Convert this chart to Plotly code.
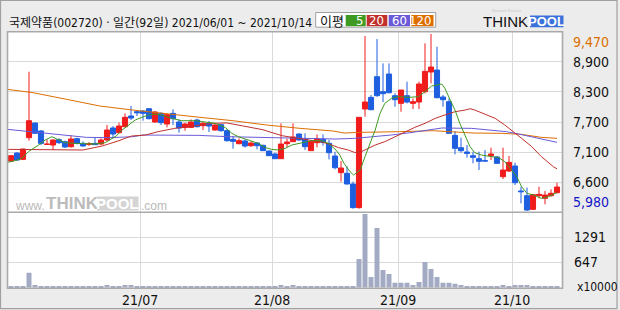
import plotly.graph_objects as go

W, H = 620, 310
def px(x): return x / W
def py(y): return 1 - y / H

# ---------------- data ----------------
month_days = [22, 22, 21, 19, 8]          # trading days Jun..Oct 2021 (92)
month_labels = ["21/07", "21/08", "21/09", "21/10"]

opens = [6971, 7126, 7003, 7422, 7705, 7551, 7293, 7280, 7383, 7344,
         7248, 7403, 7312, 7293, 7312, 7299, 7377, 7609, 7518, 7634,
         7841, 7924, 7937, 7982, 7725, 7892, 7686, 7892, 7725, 7621,
         7621, 7763, 7654, 7699, 7570, 7673, 7557, 7390, 7306, 7358,
         7267, 7319, 7274, 7164, 7106, 7016, 7306, 7345, 7493, 7396,
         7171, 7325, 7390, 7312, 7068, 6746, 6733, 6527, 6070, 7976,
         8201, 8600, 8311, 8652, 8233, 8085, 8233, 8085, 8111, 8311,
         8691, 8729, 8208, 8117, 7467, 7229, 7145, 7074, 7016, 6978,
         7074, 7048, 6668, 6778, 6874, 6392, 6301, 6037, 6301, 6250,
         6301, 6359]
highs = [7087, 7139, 7210, 8697, 7712, 7570, 7390, 7390, 7409, 7364,
         7467, 7422, 7351, 7338, 7428, 7409, 7667, 7647, 7712, 7892,
         8034, 7956, 7956, 7995, 7937, 7911, 7892, 7969, 7776, 7712,
         7776, 7789, 7725, 7744, 7686, 7686, 7589, 7454, 7409, 7390,
         7351, 7332, 7287, 7171, 7132, 7699, 7403, 7699, 7506, 7506,
         7364, 7486, 7486, 7377, 7151, 6971, 6868, 6572, 7815, 9386,
         8246, 9328, 8858, 8858, 8279, 8343, 8504, 8182, 8504, 9244,
         9425, 9180, 8246, 8182, 7551, 7422, 7280, 7151, 7151, 7184,
         7229, 7068, 7229, 7068, 6939, 6475, 6456, 6321, 6475, 6392,
         6424, 6553]
lows = [6958, 6978, 6990, 7364, 7493, 7280, 7290, 7184, 7300, 7222,
        7229, 7293, 7248, 7261, 7287, 7280, 7345, 7403, 7506, 7621,
        7763, 7841, 7750, 7776, 7712, 7667, 7621, 7667, 7518, 7557,
        7609, 7621, 7570, 7531, 7557, 7538, 7345, 7209, 7293, 7229,
        7242, 7196, 7164, 7068, 7016, 7016, 7235, 7338, 7364, 7184,
        7164, 7235, 7267, 7003, 6810, 6572, 6514, 6050, 6050, 7828,
        7950, 8214, 8111, 8279, 8021, 7924, 8085, 7976, 7976, 8279,
        8472, 8182, 8021, 7506, 7100, 7132, 7036, 6926, 6797, 6965,
        6990, 6913, 6623, 6758, 6507, 6153, 6005, 6024, 6250, 6134,
        6282, 6346]
closes = [7074, 6990, 7203, 7750, 7506, 7312, 7296, 7377, 7325, 7242,
          7396, 7312, 7261, 7305, 7287, 7377, 7570, 7493, 7647, 7815,
          7802, 7905, 7892, 7789, 7918, 7712, 7866, 7789, 7609, 7686,
          7725, 7634, 7699, 7647, 7667, 7557, 7364, 7351, 7364, 7261,
          7319, 7267, 7171, 7074, 7016, 7299, 7338, 7435, 7377, 7248,
          7351, 7403, 7332, 7132, 6842, 6836, 6527, 6070, 7815, 8111,
          7963, 8233, 8272, 8291, 8156, 8343, 8111, 8117, 8459, 8703,
          8787, 8195, 8156, 7506, 7216, 7171, 7119, 7042, 6965, 6971,
          7106, 6926, 6797, 6945, 6552, 6378, 6024, 6321, 6327, 6314,
          6347, 6469]
volumes = [36, 36, 36, 379, 62, 36, 36, 36, 36, 36,
           36, 36, 36, 36, 36, 36, 62, 36, 36, 62,
           62, 36, 36, 36, 36, 36, 36, 36, 36, 36,
           36, 36, 36, 36, 36, 36, 36, 36, 36, 36,
           36, 36, 36, 36, 36, 62, 36, 62, 36, 36,
           36, 36, 36, 36, 36, 36, 36, 36, 732, 1891,
           268, 1530, 446, 345, 121, 121, 121, 62, 139, 654,
           474, 268, 121, 121, 95, 62, 36, 36, 36, 36,
           36, 36, 62, 36, 62, 62, 62, 36, 36, 36,
           36, 36]

ma5_x = [-0.6, 0.7, 1.8, 2.9, 4.6, 5.7, 6.8, 7.9, 9, 10.7, 12.3, 14, 15.7, 16.8,
         17.6, 18.4, 19.6, 20.7, 21.8, 22.9, 24, 25.1, 26.2, 27.3, 28.4, 30.7, 32.3,
         34, 35.7, 36.8, 37.9, 39.6, 41.2, 42.3, 43.4, 44.6, 45.7, 46.8, 48.5, 50.1,
         51.8, 52.9, 54.2, 54.8, 55.5, 56.5, 57.1, 58.2, 59, 59.8, 60.7, 61.5, 62.3,
         63.4, 64.6, 66.2, 67.9, 69, 70.1, 71.8, 72.3, 73.2, 74, 74.8, 75.7, 76.5,
         77.3, 78.4, 80.1, 81.2, 82.3, 83.4, 84.3, 85.1, 86, 87.1, 88.4, 89.6, 91]
ma5 = [6945, 6978, 7023, 7151, 7280, 7377, 7441, 7377, 7325, 7312, 7300, 7300, 7325, 7409,
       7460, 7560, 7667, 7763, 7815, 7860, 7879, 7860, 7815, 7776, 7750, 7750, 7731,
       7699, 7620, 7506, 7441, 7377, 7312, 7235, 7197, 7184, 7216, 7280, 7325, 7364,
       7364, 7312, 7180, 7087, 6926, 6765, 6701, 6797, 7055, 7312, 7570, 7892, 8085,
       8182, 8214, 8201, 8214, 8311, 8420, 8459, 8380, 8150, 7956, 7699, 7441, 7248,
       7132, 7087, 7055, 7042, 6958, 6797, 6668, 6475, 6346, 6314, 6250, 6282, 6360]

ma20_x = [-0.6, 12, 15.2, 16.8, 18, 19, 20.1, 22.4, 23.5, 24.5, 27.3, 29.8, 31.8, 33.5,
          36, 38.6, 40.5, 42, 43.5, 45.2, 47, 48.6, 50.2, 51.7, 53, 54.6, 56.2, 57.3,
          58.4, 59.5, 60.7, 62.3, 64, 65.7, 67.3, 69, 70.7, 71.8, 73, 74, 75.7, 76.5,
          77.3, 79, 80.7, 82.3, 83.4, 85.1, 86.8, 88.4, 90.4, 91]
ma20 = [7196, 7184, 7261, 7312, 7364, 7409, 7454, 7473, 7506, 7538, 7602, 7634, 7667, 7699,
        7706, 7650, 7610, 7575, 7520, 7460, 7425, 7400, 7377, 7340, 7300, 7230, 7184, 7135,
        7151, 7216, 7280, 7345, 7441, 7538, 7621, 7699, 7795, 7841, 7879, 7924, 7956, 7982,
        7956, 7879, 7795, 7667, 7570, 7409, 7248, 7055, 6861, 6820]

ma60_x = [-0.6, 2, 5.4, 9.3, 12.6, 16.5, 20.3, 22, 27, 31.2, 36.3, 45, 54, 57.3, 60.7,
          63.4, 66.5, 69.3, 71.8, 76.8, 80.4, 82.6, 84.6, 86.2, 87.9, 89.6, 91]
ma60 = [7583, 7551, 7506, 7454, 7428, 7422, 7441, 7473, 7473, 7467, 7441, 7415, 7396, 7409, 7441,
        7474, 7518, 7570, 7609, 7602, 7570, 7538, 7493, 7454, 7422, 7377, 7332]

ma120_x = [-0.6, 3.7, 9.3, 14.8, 20.3, 26, 31.5, 37, 42.6, 48.2, 53.7, 55.5, 58.2, 64.8,
           70.4, 77, 81.8, 85.1, 88.4, 91]
ma120 = [8356, 8291, 8162, 8034, 7956, 7879, 7815, 7750, 7667, 7602, 7551, 7512, 7525, 7538,
         7557, 7512, 7506, 7486, 7428, 7409]

price_min, price_max = 5980, 9470
price_labels = ["6,600", "7,100", "7,700", "8,300", "8,900"]
vol_max = 1937
vol_ticks = [647, 1291]
vol_labels = ["647", "1291"]

title_text = "국제약품(002720) · 일간(92일) 2021/06/01 ~ 2021/10/14"
ma_names = ["5", "20", "60", "120"]

# ---------------- styles ----------------
RED = "#f01c1c"
BLUE = "#1e5fe0"
C5, C20, C60, C120 = "#3f9a22", "#c0302c", "#6a5ad8", "#dd6e00"
VOLC = "#a3abc4"
GRID = "#dadada"
FRAME = "#a9a9a9"
BG = "#ececec"
NARROW = "Liberation Sans Narrow, Arial Narrow, DejaVu Sans Condensed, Noto Sans CJK KR, sans-serif"

n = len(closes)
idx = list(range(n))
bounds = []
acc = 0
for d in month_days[:-1]:
    acc += d
    bounds.append(acc - 0.5)

fig = go.Figure()
fig.add_trace(go.Candlestick(
    x=idx, open=opens, high=highs, low=lows, close=closes,
    increasing=dict(line=dict(color=RED, width=1), fillcolor=RED),
    decreasing=dict(line=dict(color=BLUE, width=1), fillcolor=BLUE),
    xaxis="x", yaxis="y", showlegend=False, hoverinfo="skip"))
for xs, ys, c in [(ma120_x, ma120, C120), (ma60_x, ma60, C60),
                  (ma20_x, ma20, C20), (ma5_x, ma5, C5)]:
    fig.add_trace(go.Scatter(x=xs, y=ys, mode="lines", line=dict(color=c, width=1),
                             xaxis="x", yaxis="y", showlegend=False, hoverinfo="skip"))
fig.add_trace(go.Bar(x=idx, y=volumes, marker=dict(color=VOLC, line=dict(width=0)),
                     xaxis="x", yaxis="y2", showlegend=False, hoverinfo="skip"))

step = (price_max - price_min) / 6
grid_vals = [price_min + step * k for k in range(1, 6)]

left, right = 7.5, 562.5
top, split, bottom = 31.7, 212.3, 288.3
x0 = (left - 11) / 6
x1 = (right - 11) / 6

fig.update_layout(
    width=W, height=H, margin=dict(l=0, r=0, t=0, b=0),
    paper_bgcolor=BG, plot_bgcolor="white",
    bargap=0.17, boxgap=0.15, boxgroupgap=0,
    xaxis=dict(domain=[px(left), px(right)], range=[x0, x1], anchor="y2",
               tickvals=bounds, showticklabels=False, ticks="",
               showgrid=True, gridcolor=GRID, gridwidth=1.3, zeroline=False,
               rangeslider=dict(visible=False), fixedrange=True),
    yaxis=dict(domain=[py(split), py(top)], range=[price_min, price_max],
               tickvals=grid_vals, showticklabels=False, ticks="",
               showgrid=True, gridcolor=GRID, gridwidth=1, zeroline=False),
    yaxis2=dict(domain=[py(bottom), py(split)], range=[-23, vol_max],
                tickvals=vol_ticks, showticklabels=False, ticks="",
                showgrid=True, gridcolor=GRID, gridwidth=1, zeroline=False),
)

shapes = []
shapes.append(dict(type="rect", xref="paper", yref="paper", x0=px(0.5), x1=px(617),
                   y0=py(308.7), y1=py(0.5), line=dict(color="#a0a0a0", width=1.2)))
shapes.append(dict(type="rect", xref="paper", yref="paper", x0=px(left), x1=px(right),
                   y0=py(bottom), y1=py(top), line=dict(color=FRAME, width=1.6), layer="above"))
shapes.append(dict(type="line", xref="paper", yref="paper", x0=px(left), x1=px(right),
                   y0=py(split), y1=py(split), line=dict(color=FRAME, width=1.6), layer="above"))
shapes.append(dict(type="rect", xref="paper", yref="paper", x0=px(315.7), x1=px(435.7),
                   y0=py(27.2), y1=py(12.5), fillcolor="white", line=dict(color="#a0a0a0", width=1)))
boxes = [(345.7, 365.7, C5), (366.7, 387.3, C20), (388.7, 410.0, C60), (411.3, 433.5, C120)]
for (a, b, c) in boxes:
    shapes.append(dict(type="rect", xref="paper", yref="paper", x0=px(a), x1=px(b),
                       y0=py(26.2), y1=py(15.0), fillcolor=c, line=dict(width=0)))
shapes.append(dict(type="rect", xref="paper", yref="paper", x0=px(530), x1=px(563.5),
                   y0=py(27.3), y1=py(15.5), fillcolor="#3b72d9", line=dict(width=0)))
shapes.append(dict(type="rect", xref="paper", yref="paper", x0=px(97), x1=px(138.5),
                   y0=py(210.5), y1=py(196.5), fillcolor="#d4d4d4", line=dict(width=0)))
fig.update_layout(shapes=shapes)

ann = []
def A(text, x, y, size=13, color="#111", xanchor="left", yanchor="middle", family=NARROW, **kw):
    ann.append(dict(text=text, x=px(x), y=py(y), xref="paper", yref="paper", showarrow=False,
                    xanchor=xanchor, yanchor=yanchor, font=dict(size=size, color=color, family=family), **kw))

A(title_text, 7, 22.7, size=12, family="Liberation Sans Narrow, DejaVu Sans Condensed, Noto Sans CJK KR, sans-serif")
A("이평", 331.5, 20.3, size=13, xanchor="center", family="Noto Sans CJK KR")
for (a, b, c), name in zip(boxes, ma_names):
    A(name, b - 1, 20.8, size=13, color="white", xanchor="right")
A("THINK", 530, 21.8, size=15, color="#111", xanchor="right", family="Liberation Sans, Arial, sans-serif")
A("<b>POOL</b>", 546.8, 21.6, size=13, color="white", xanchor="center", family="Liberation Sans, Arial, sans-serif")
A("Network Service", 507, 10.5, size=4, color="#c8c8c8", xanchor="center", family="Liberation Sans")
# watermark
A("www.", 47, 205.5, size=12, color="#b9b9b9", xanchor="right", family="Liberation Sans")
A("<b>THINK</b>", 72, 203.5, size=17, color="#bcbcbc", xanchor="center", family="Liberation Sans")
A("<b>POOL</b>", 117.7, 203.5, size=15, color="white", xanchor="center", family="Liberation Sans")
A(".com", 138.5, 205.5, size=12, color="#b9b9b9", xanchor="left", family="Liberation Sans")

for v, t in zip(grid_vals, price_labels):
    ann.append(dict(text=t, x=px(571), y=v, xref="paper", yref="y", showarrow=False,
                    xanchor="left", yanchor="middle", font=dict(size=14, color="#111", family=NARROW)))
ann.append(dict(text=f"{price_max:,}", x=px(571), y=price_max, xref="paper", yref="y", showarrow=False,
                xanchor="left", yanchor="top", font=dict(size=14, color="#dd6e00", family=NARROW)))
ann.append(dict(text=f"{price_min:,}", x=px(571), y=price_min, xref="paper", yref="y", showarrow=False,
                xanchor="left", yanchor="bottom", font=dict(size=14, color="#1414c8", family=NARROW)))
for v, t in zip(vol_ticks, vol_labels):
    ann.append(dict(text=t, x=px(571.5), y=v, xref="paper", yref="y2", showarrow=False,
                    xanchor="left", yanchor="middle", font=dict(size=14, color="#111", family=NARROW)))
A("x10000", 575, 286.7, size=12)
for b, t in zip(bounds, month_labels):
    ann.append(dict(text=t, x=b, y=py(300), xref="x", yref="paper", showarrow=False,
                    xanchor="center", yanchor="middle", font=dict(size=14, color="#111", family=NARROW)))
fig.update_layout(annotations=ann)

fig.write_html("out.html")
